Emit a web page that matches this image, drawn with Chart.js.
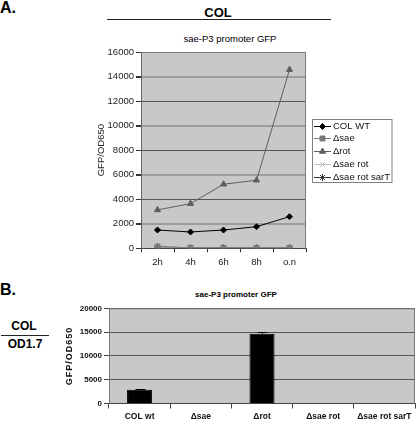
<!DOCTYPE html>
<html><head><meta charset="utf-8">
<script src="https://cdn.jsdelivr.net/npm/chart.js@4.4.1/dist/chart.umd.min.js"></script>
<style>
body{margin:0;width:416px;height:424px;background:#fff;position:relative;overflow:hidden;font-family:"Liberation Sans",Arial,sans-serif;color:#000}
.t{position:absolute;white-space:nowrap;line-height:1;transform:translate(-50%,-50%)}
.l{position:absolute;white-space:nowrap;line-height:1;transform:translate(0,-50%)}
.hr{position:absolute;height:1px;background:#222}
canvas{position:absolute}
</style></head><body>
<div class="l" style="left:0px;top:7.5px;font:bold 16px 'Liberation Sans',Arial">A.</div>
<div class="t" style="left:218px;top:12px;font:bold 13px 'Liberation Sans',Arial">COL</div>
<div class="hr" style="left:107px;top:19px;width:224px"></div>
<div class="t" style="left:230px;top:38px;font:9.5px 'Liberation Sans',Arial">sae-P3 promoter GFP</div>

<div class="l" style="left:0px;top:289.5px;font:bold 16px 'Liberation Sans',Arial">B.</div>
<div class="t" style="left:24px;top:326px;font:bold 12px 'Liberation Sans',Arial">COL</div>
<div class="hr" style="left:1px;top:334.5px;width:48px"></div>
<div class="t" style="left:25px;top:343.5px;font:bold 12px 'Liberation Sans',Arial">OD1.7</div>
<div class="t" style="left:236px;top:293.5px;font:bold 8px 'Liberation Sans',Arial">sae-P3 promoter GFP</div>

<canvas id="ca" width="416" height="280" style="left:0;top:0;width:416px;height:280px"></canvas>
<canvas id="cb" width="416" height="144" style="left:0;top:280px;width:416px;height:144px"></canvas>
<script>
// ---- Data: chart A (time course) ----
const timeLabels = ['2h', '4h', '6h', '8h', 'o.n'];
const colWT      = [1490, 1330, 1490, 1760, 2580];
const dSae       = [130, 40, 50, 40, 40];
const dRot       = [3130, 3640, 5220, 5550, 14560];
const dSaeRot    = [110, 30, 40, 30, 30];
const dSaeRotSarT= [120, 40, 40, 30, 30];
const seriesNamesA = ['COL WT', '\u0394sae', '\u0394rot', '\u0394sae rot', '\u0394sae rot sarT'];

// ---- Data: chart B (OD1.7) ----
const strainLabels = ['COL wt', '\u0394sae', '\u0394rot', '\u0394sae rot', '\u0394sae rot sarT'];
const gfpOD       = [2870, 30, 14650, 30, 30];
const gfpErr      = [180, 0, 280, 0, 0];

const FONT = "'Liberation Sans', Arial, sans-serif";
const PLOT_BG = '#c8c8c8';

const plotBg = {
  id: 'plotBg',
  beforeDraw(chart) {
    const {ctx, chartArea: a} = chart;
    ctx.save();
    ctx.fillStyle = PLOT_BG;
    ctx.fillRect(a.left, a.top, a.right - a.left, a.bottom - a.top);
    ctx.restore();
  },
  afterDatasetsDraw(chart) {
    const {ctx, chartArea: a} = chart;
    ctx.save();
    ctx.strokeStyle = '#7a7a7a';
    ctx.lineWidth = 1;
    ctx.beginPath();
    ctx.moveTo(a.left, a.top + 0.5);
    ctx.lineTo(a.right - 0.5, a.top + 0.5);
    ctx.lineTo(a.right - 0.5, a.bottom);
    ctx.stroke();
    ctx.restore();
  }
};

const legendA = {
  id: 'legendA',
  afterDraw(chart) {
    const ctx = chart.ctx;
    ctx.save();
    ctx.strokeStyle = '#808080';
    ctx.lineWidth = 1;
    ctx.strokeRect(312.5, 119.5, 79.5, 63);
    ctx.font = '9.5px ' + FONT;
    ctx.textBaseline = 'middle';
    ctx.textAlign = 'left';
    chart.data.datasets.forEach((ds, i) => {
      const y = 125.5 + i * 12.8;
      ctx.strokeStyle = ds.borderColor;
      ctx.lineWidth = 1;
      ctx.beginPath();
      ctx.moveTo(314, Math.round(y) + 0.5);
      ctx.lineTo(331, Math.round(y) + 0.5);
      ctx.stroke();
      ctx.fillStyle = ds.pointBackgroundColor;
      ctx.strokeStyle = ds.pointBorderColor;
      Chart.helpers.drawPoint(ctx, {pointStyle: ds.pointStyle, radius: ds.pointRadius, rotation: 0, borderWidth: 1}, 322.5, Math.round(y) + 0.5);
      ctx.fillStyle = '#111';
      ctx.fillText(ds.label, 333, y + 0.5);
    });
    ctx.restore();
  }
};

function mk(label, data, line, pt, style, r) {
  return {label, data, borderColor: line, borderWidth: 1, pointStyle: style, pointRadius: r,
    pointBackgroundColor: pt, pointBorderColor: pt, pointBorderWidth: 1, tension: 0, fill: false};
}

new Chart(document.getElementById('ca'), {
  type: 'line',
  data: {
    labels: timeLabels,
    datasets: [
      mk(seriesNamesA[0], colWT, '#000000', '#000000', 'rectRot', 3),
      mk(seriesNamesA[1], dSae, '#7a7a7a', '#7a7a7a', 'rect', 3.5),
      mk(seriesNamesA[2], dRot, '#5e5e5e', '#5e5e5e', 'triangle', 3.5),
      mk(seriesNamesA[3], dSaeRot, '#bdbdbd', '#bdbdbd', 'crossRot', 3.5),
      mk(seriesNamesA[4], dSaeRotSarT, '#333333', '#333333', 'star', 3.5)
    ]
  },
  options: {
    responsive: false, animation: false,
    layout: {padding: {left: 96, right: 110, top: 52, bottom: 0}},
    plugins: {legend: {display: false}, title: {display: false}, tooltip: {enabled: false}},
    scales: {
      x: {
        offset: true,
        afterFit(s) { s.height = 31.7; },
        grid: {offset: true, drawOnChartArea: false, drawTicks: true, tickLength: 4, tickColor: '#333'},
        border: {display: true, color: '#444', width: 1},
        ticks: {color: '#222', font: {family: FONT, size: 9.5}, padding: 4, maxRotation: 0}
      },
      y: {
        min: 0, max: 16000,
        afterFit(s) { s.width = 45; },
        grid: {
          color: c => (c.tick && c.tick.value % 4000 === 2000) ? '#9c9c9c' : '#555555',
          lineWidth: c => (c.tick && c.tick.value % 4000 === 2000) ? 2 : 1,
          tickLength: 5, tickColor: '#333', drawTicks: true
        },
        border: {display: true, color: '#666', width: 1},
        title: {display: true, text: 'GFP/OD650', color: '#222', font: {family: FONT, size: 9.5, lineHeight: 1.2}, padding: 0},
        ticks: {stepSize: 2000, color: '#222', font: {family: FONT, size: 9.5}, padding: 2, callback: v => String(v)}
      }
    }
  },
  plugins: [plotBg, legendA]
});

const errBars = {
  id: 'errBars',
  afterDatasetsDraw(chart) {
    const {ctx} = chart;
    const ys = chart.scales.y;
    const meta = chart.getDatasetMeta(0);
    ctx.save();
    ctx.strokeStyle = '#000';
    ctx.lineWidth = 1;
    meta.data.forEach((bar, i) => {
      const e = gfpErr[i];
      if (!e) return;
      const v = gfpOD[i];
      const yTop = ys.getPixelForValue(v + e);
      const yBot = ys.getPixelForValue(v);
      const x = Math.round(bar.x) + 0.5;
      ctx.beginPath();
      ctx.moveTo(x, yBot);
      ctx.lineTo(x, yTop);
      ctx.moveTo(x - 5, Math.round(yTop) + 0.5);
      ctx.lineTo(x + 5, Math.round(yTop) + 0.5);
      ctx.stroke();
    });
    ctx.restore();
  }
};

const yTitleB = {
  id: 'yTitleB',
  afterDraw(chart) {
    const {ctx, chartArea: a} = chart;
    ctx.save();
    ctx.translate(70, (a.top + a.bottom) / 2);
    ctx.rotate(-Math.PI / 2);
    ctx.font = 'bold 9px ' + FONT;
    try { ctx.letterSpacing = '1px'; } catch (e) {}
    ctx.fillStyle = '#111';
    ctx.textAlign = 'center';
    ctx.textBaseline = 'middle';
    ctx.fillText('GFP/OD650', 0, 0);
    ctx.restore();
  }
};

new Chart(document.getElementById('cb'), {
  type: 'bar',
  data: {
    labels: strainLabels,
    datasets: [{
      label: 'GFP/OD650', data: gfpOD,
      backgroundColor: '#000', borderColor: '#000', borderWidth: 1,
      barPercentage: 0.41, categoryPercentage: 1.0
    }]
  },
  options: {
    responsive: false, animation: false,
    layout: {padding: {left: 65, right: 1, top: 28.3, bottom: 0}},
    plugins: {legend: {display: false}, title: {display: false}, tooltip: {enabled: false}},
    scales: {
      x: {
        afterFit(s) { s.height = 20.5; },
        grid: {offset: true, drawOnChartArea: false, drawTicks: true, tickLength: 5, tickColor: '#444'},
        border: {display: true, color: '#444', width: 1},
        ticks: {color: '#111', font: {family: FONT, size: 8.5, weight: 'bold'}, padding: 3, maxRotation: 0, autoSkip: false}
      },
      y: {
        min: 0, max: 20000,
        afterFit(s) { s.width = 44; },
        grid: {color: '#555', lineWidth: 1, tickLength: 5, tickColor: '#444', drawTicks: true},
        border: {display: true, color: '#777', width: 1},
        ticks: {stepSize: 5000, color: '#111', font: {family: FONT, size: 8, weight: 'bold'}, padding: 2, callback: v => String(v)}
      }
    }
  },
  plugins: [plotBg, errBars, yTitleB]
});
</script>
</body></html>
